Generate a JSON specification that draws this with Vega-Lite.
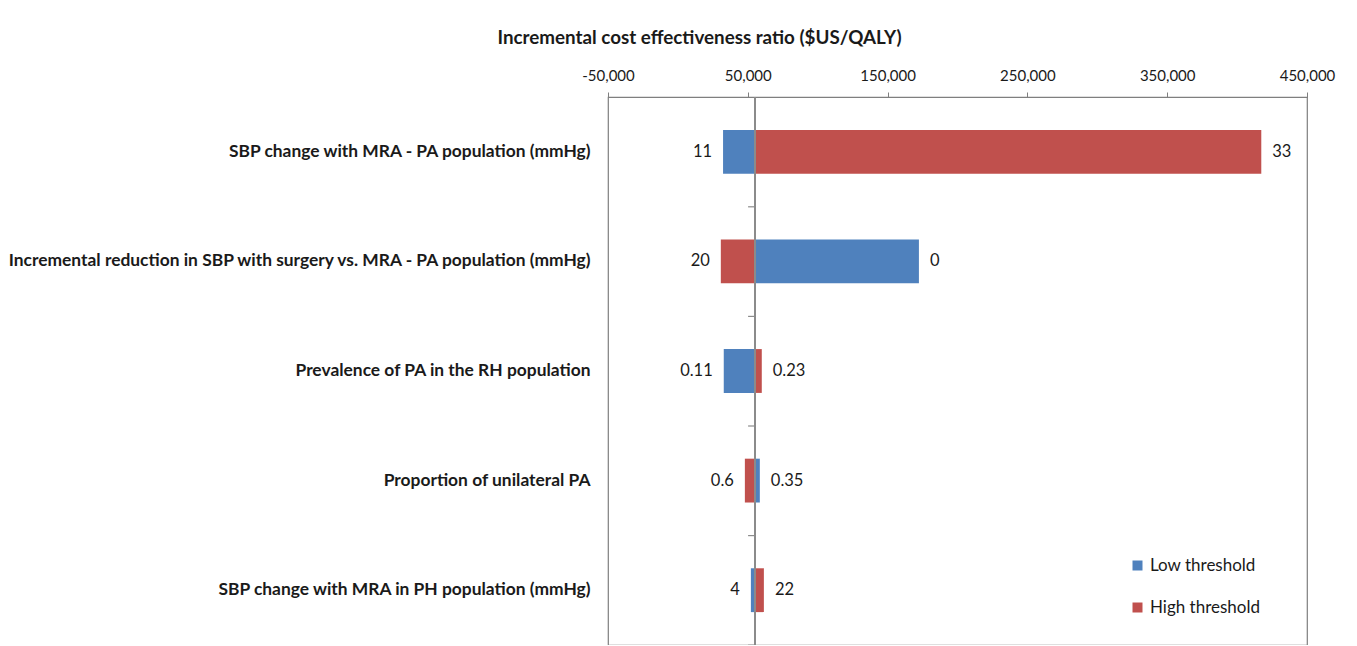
{
  "$schema": "https://vega.github.io/schema/vega-lite/v6.json",
  "autosize": {"type": "none"},
  "padding": {"left": 608, "top": 97, "right": 50, "bottom": 0},
  "width": 699,
  "height": 548,
  "background": "white",
  "config": {
    "font": "Lato",
    "view": {"stroke": "#7f7f7f", "strokeWidth": 1.2}
  },
  "data": {
    "values": [
      {"param": "SBP change with MRA - PA population (mmHg)", "threshold": "Low threshold", "icer": 32300, "label": "11"},
      {"param": "SBP change with MRA - PA population (mmHg)", "threshold": "High threshold", "icer": 417300, "label": "33"},
      {"param": "Incremental reduction in SBP with surgery vs. MRA - PA population (mmHg)", "threshold": "High threshold", "icer": 30700, "label": "20"},
      {"param": "Incremental reduction in SBP with surgery vs. MRA - PA population (mmHg)", "threshold": "Low threshold", "icer": 172400, "label": "0"},
      {"param": "Prevalence of PA in the RH population", "threshold": "Low threshold", "icer": 32800, "label": "0.11"},
      {"param": "Prevalence of PA in the RH population", "threshold": "High threshold", "icer": 60000, "label": "0.23"},
      {"param": "Proportion of unilateral PA", "threshold": "High threshold", "icer": 47900, "label": "0.6"},
      {"param": "Proportion of unilateral PA", "threshold": "Low threshold", "icer": 58600, "label": "0.35"},
      {"param": "SBP change with MRA in PH population (mmHg)", "threshold": "Low threshold", "icer": 52200, "label": "4"},
      {"param": "SBP change with MRA in PH population (mmHg)", "threshold": "High threshold", "icer": 61500, "label": "22"}
    ]
  },
  "layer": [
    {
      "mark": {"type": "bar"},
      "encoding": {
        "y": {
          "field": "param",
          "type": "nominal",
          "sort": null,
          "scale": {"paddingInner": 0.6, "paddingOuter": 0.3},
          "axis": {
            "title": null,
            "domain": false,
            "ticks": false,
            "labelPadding": 18,
            "labelFont": "Lato",
            "labelFontSize": 17.4,
            "labelFontWeight": "bold",
            "labelColor": "#1a1a1a",
            "labelLimit": 700
          }
        },
        "x": {
          "field": "icer",
          "type": "quantitative",
          "scale": {"domain": [-50000, 450000], "nice": false, "zero": false},
          "axis": {
            "orient": "top",
            "values": [-50000, 50000, 150000, 250000, 350000, 450000],
            "labelExpr": "replace(format(datum.value, ',.0f'), '\u2212', '-')",
            "labelFlush": false,
            "labelOverlap": false,
            "grid": false,
            "domainColor": "#7f7f7f",
            "domainWidth": 1.2,
            "tickColor": "#7f7f7f",
            "tickSize": 5,
            "labelFontSize": 15,
            "labelColor": "#1a1a1a",
            "labelPadding": 9,
            "title": "Incremental cost effectiveness ratio ($US/QALY)",
            "titleFont": "Lato",
            "titleFontSize": 18.8,
            "titleFontWeight": "bold",
            "titleColor": "#1a1a1a",
            "titleAlign": "left",
            "titleBaseline": "middle",
            "titleX": -111,
            "titleY": -60
          }
        },
        "x2": {"datum": 55000},
        "color": {
          "field": "threshold",
          "type": "nominal",
          "scale": {"domain": ["Low threshold", "High threshold"], "range": ["#4F81BD", "#C0504D"]},
          "legend": {
            "title": null,
            "orient": "none",
            "legendX": 521,
            "legendY": 460,
            "symbolType": "square",
            "symbolSize": 100,
            "symbolStrokeWidth": 0,
            "labelFontSize": 17,
            "labelColor": "#1a1a1a",
            "labelOffset": 4,
            "rowPadding": 24
          }
        }
      }
    },
    {
      "mark": {"type": "rule", "color": "#8c8c8c", "strokeWidth": 1.2},
      "encoding": {"x": {"datum": 55000}}
    },
    {
      "transform": [{"filter": "datum.threshold == 'Low threshold'"}],
      "mark": {"type": "rule", "color": "#8c8c8c", "strokeWidth": 1.2, "yOffset": 55},
      "encoding": {
        "y": {"field": "param", "type": "nominal", "sort": null},
        "x": {"datum": 50200},
        "x2": {"datum": 55000}
      }
    },
    {
      "transform": [{"filter": "datum.icer < 55000"}],
      "mark": {"type": "text", "align": "right", "baseline": "middle", "dx": -11, "fontSize": 16.5, "color": "#1a1a1a"},
      "encoding": {
        "y": {"field": "param", "type": "nominal", "sort": null},
        "x": {"field": "icer", "type": "quantitative"},
        "text": {"field": "label"}
      }
    },
    {
      "transform": [{"filter": "datum.icer > 55000"}],
      "mark": {"type": "text", "align": "left", "baseline": "middle", "dx": 11, "fontSize": 16.5, "color": "#1a1a1a"},
      "encoding": {
        "y": {"field": "param", "type": "nominal", "sort": null},
        "x": {"field": "icer", "type": "quantitative"},
        "text": {"field": "label"}
      }
    }
  ]
}
